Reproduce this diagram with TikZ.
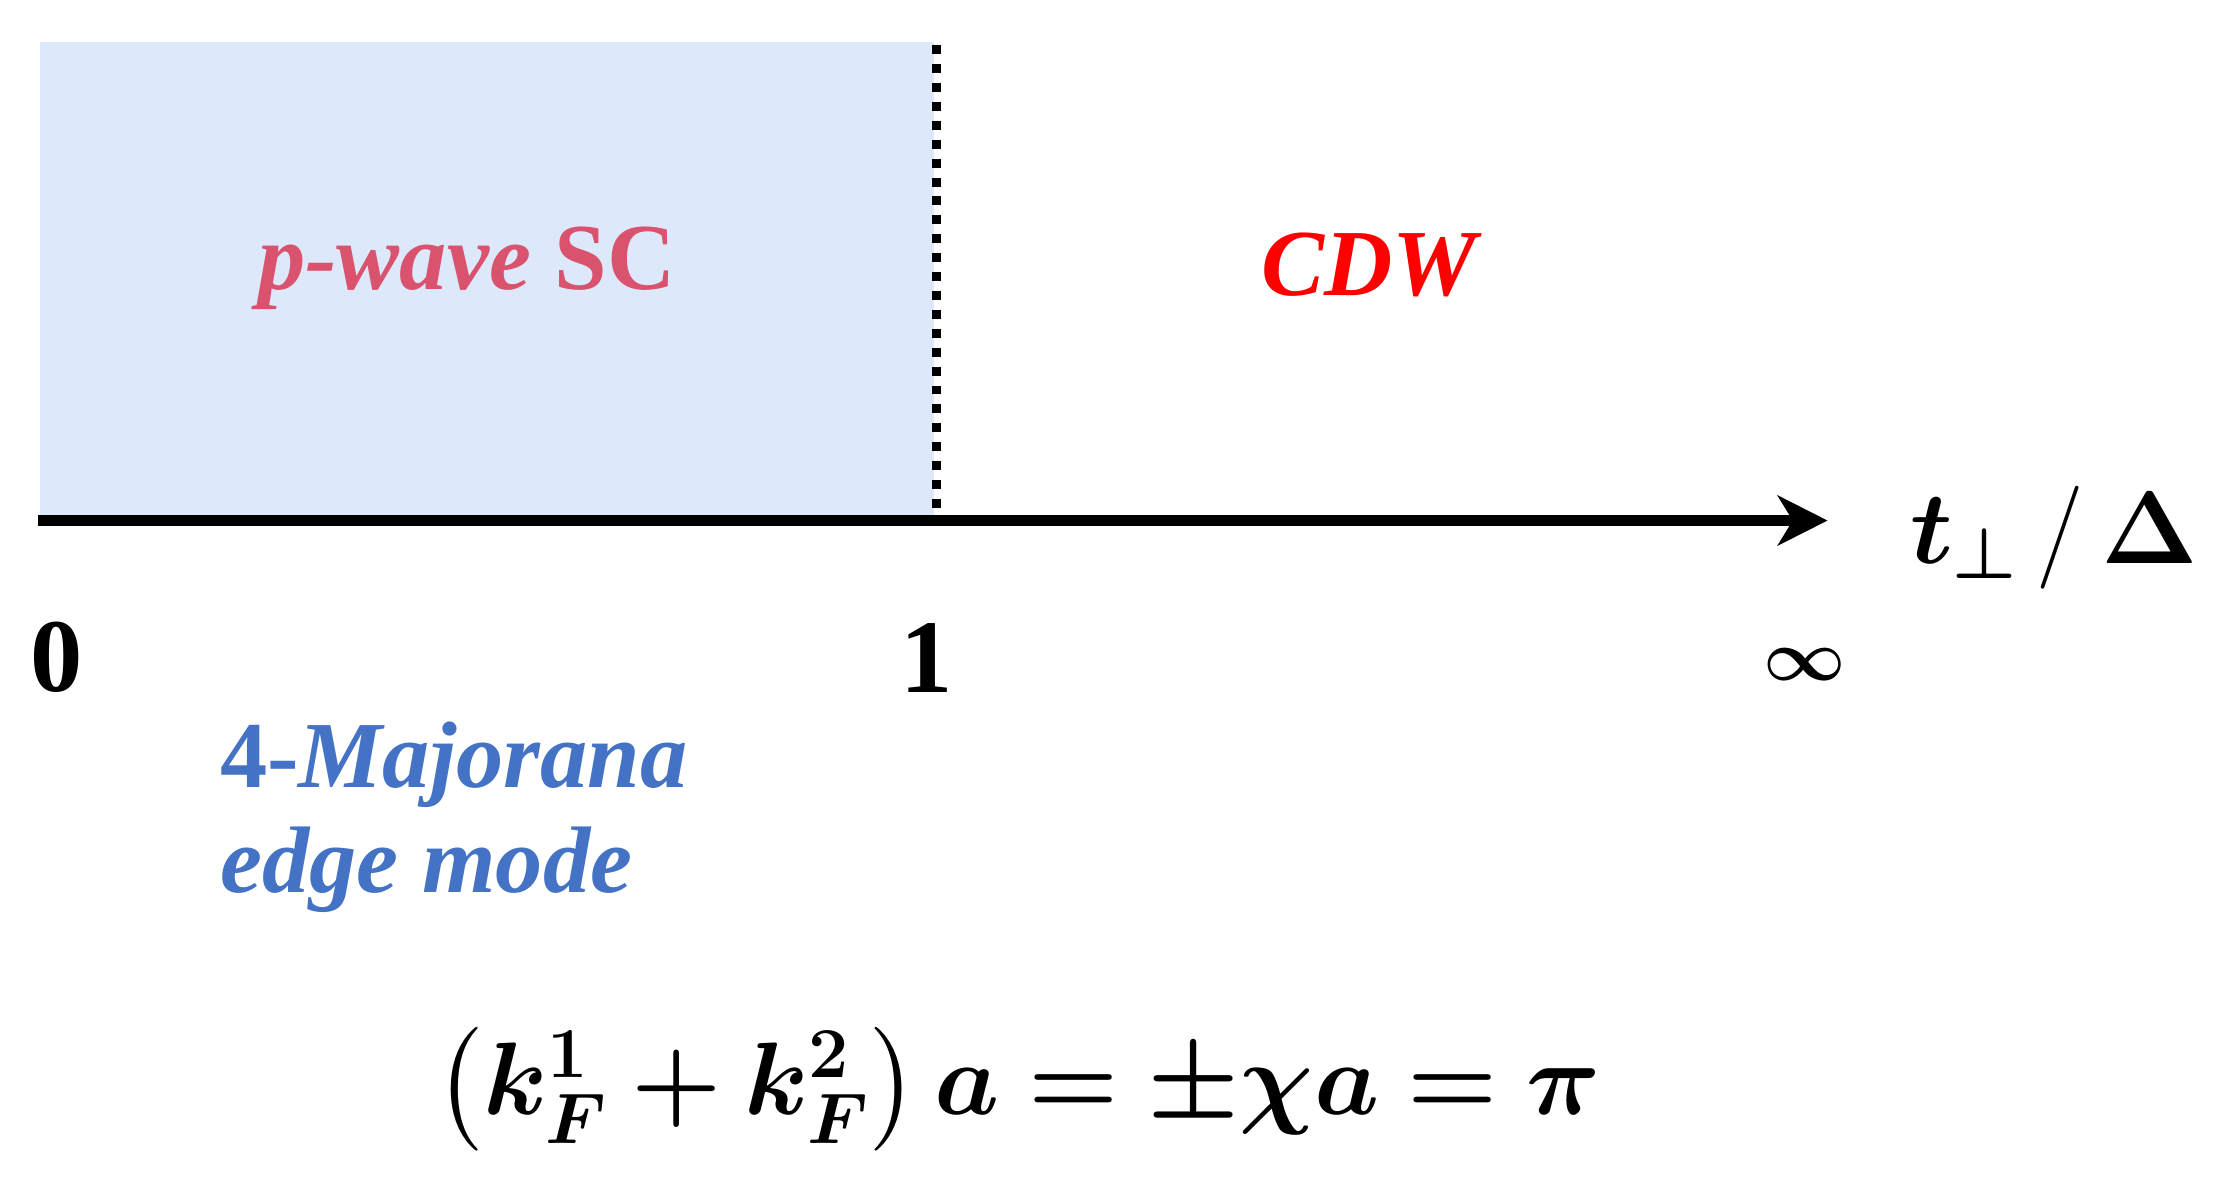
\documentclass[tikz,border=0pt]{standalone}
\usepackage{fontspec}
\usepackage{amsmath,bm}
\setmainfont{Liberation Serif}
\usetikzlibrary{arrows.meta}
\definecolor{scblue}{HTML}{DEE8FB}
\definecolor{scpink}{HTML}{D9536E}
\definecolor{edgeblue}{HTML}{4472C4}
\begin{document}
\begin{tikzpicture}[x=0.01cm, y=-0.01cm,
        every node/.style={font=\bfseries\fontsize{19}{23}\selectfont},
        tick/.style={font=\bfseries\fontsize{21}{25}\selectfont},
        axis/.style={line width=2.2pt, -{Stealth[length=10pt,width=10pt,inset=3pt]}}
    ]
        \useasboundingbox (0,0) rectangle (1568,837);
        \fill[scblue] (28,30) rectangle (660,367);
        \draw[line width=1.8pt, dotted] (662,32) -- (662,366);

        \coordinate (origin) at (27,368);
        \coordinate (end) at (1292,368);
        \draw[axis] (origin) -- (end);

        \node[text=scpink] (sc) at (330,190) {\itshape p-wave \upshape SC};
        \node[text=red] (cdw) at (968,187) {\itshape CDW};
        \node[font=\fontsize{22}{26}\selectfont] (lab) at (1452,380) {$\boldsymbol{t_\perp}\,/\,\boldsymbol{\Delta}$};

        \node[tick] (n0) at (40,465) {0};
        \node[tick] (n1) at (655,465) {1};
        \node[tick, font=\fontsize{15}{18}\selectfont] (ninf) at (1276,470) {$\boldsymbol{\infty}$};

        \node[text=edgeblue, align=left, anchor=north west, inner sep=0pt, font=\bfseries\itshape\fontsize{19}{21}\selectfont] (edge) at (155,510) {\upshape4-\itshape Majorana\\edge mode};

        \node[font=\fontsize{20.5}{24}\selectfont] (eq) at (720,770) {$\boldsymbol{\left(k_F^1+k_F^2\right)a=\pm\chi a=\pi}$};
    \end{tikzpicture}
\end{document}
